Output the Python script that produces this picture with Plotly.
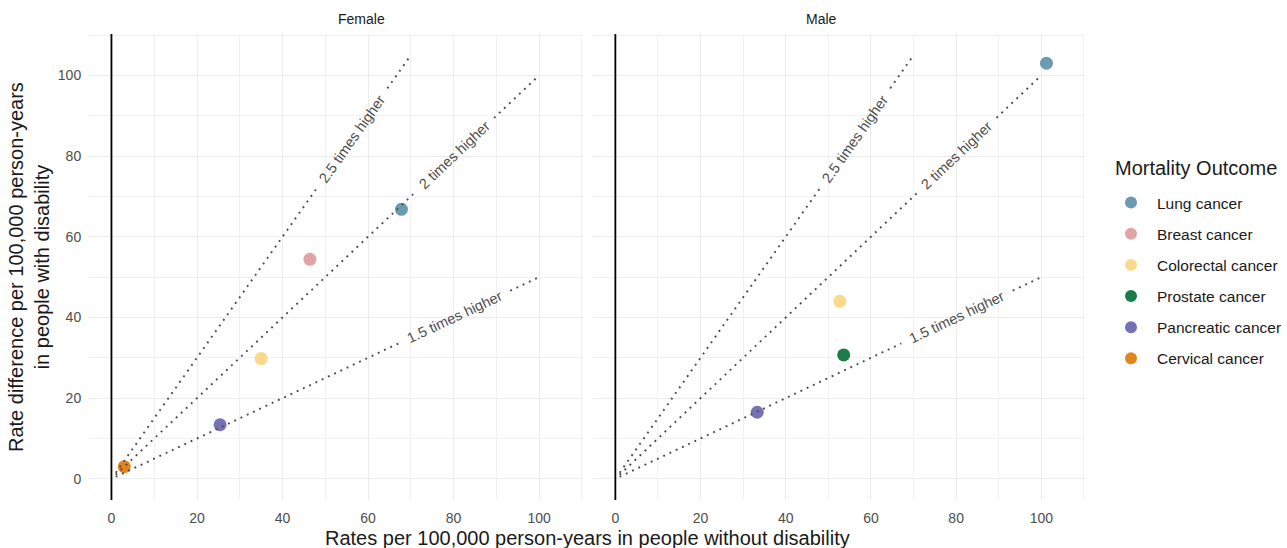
import math
import plotly.graph_objects as go

# ---------------- data ----------------
categories = ["Lung cancer", "Breast cancer", "Colorectal cancer",
              "Prostate cancer", "Pancreatic cancer", "Cervical cancer"]
colors = ["#6A9BB2", "#E3A3A3", "#FAD98A", "#1C7C48", "#7472B4", "#E2851F"]

female_cat = ["Lung cancer", "Breast cancer", "Colorectal cancer",
              "Pancreatic cancer", "Cervical cancer"]
female_x = [67.8, 46.4, 35.0, 25.4, 3.0]
female_y = [66.8, 54.4, 29.8, 13.4, 3.0]

male_cat = ["Lung cancer", "Colorectal cancer", "Prostate cancer", "Pancreatic cancer"]
male_x = [101.2, 52.7, 53.6, 33.3]
male_y = [103.0, 44.0, 30.7, 16.5]

ratios = [2.5, 2.0, 1.5]
ratio_labels = ["2.5 times higher", "2 times higher", "1.5 times higher"]
ratio_x_start = [1, 1, 1]
ratio_x_end = [70, 100, 100]
label_pos = 0.8

x_ticks = [0, 20, 40, 60, 80, 100]
y_ticks = [0, 20, 40, 60, 80, 100]
minor_ticks = [10, 30, 50, 70, 90, 110]
axis_range = [-5.25, 110.25]

# ---------------- layout geometry ----------------
W, H = 1287, 548
ml, mr, mt, mb = 89, 202, 34, 48
pw, ph = W - ml - mr, H - mt - mb
dom1 = [0, 494 / pw]
dom2 = [504 / pw, 1]
span = axis_range[1] - axis_range[0]
sx1 = (dom1[1] - dom1[0]) * pw / span
sx2 = (dom2[1] - dom2[0]) * pw / span
sy = ph / span

FONT = "Liberation Sans, Arial, sans-serif"
LINE_COL = "#4A4A4A"
TXT_COL = "#4D4D4D"
fsize = 14.5

fig = go.Figure()

# points
cmap = dict(zip(categories, colors))
for rank, cat in enumerate(categories):
    if cat in female_cat:
        i = female_cat.index(cat)
        fig.add_trace(go.Scatter(
            x=[female_x[i]], y=[female_y[i]], mode="markers", name=cat,
            marker=dict(color=cmap[cat], size=13), legendgroup=cat,
            legendrank=rank + 1, showlegend=True, xaxis="x", yaxis="y"))
    if cat in male_cat:
        i = male_cat.index(cat)
        fig.add_trace(go.Scatter(
            x=[male_x[i]], y=[male_y[i]], mode="markers", name=cat,
            marker=dict(color=cmap[cat], size=13), legendgroup=cat,
            legendrank=rank + 1, showlegend=cat not in female_cat,
            xaxis="x2", yaxis="y"))

# ratio reference lines (dotted, broken where the label sits)
annotations = []
for xa, sx in (("x", sx1), ("x2", sx2)):
    for r, lab, x0, x1 in zip(ratios, ratio_labels, ratio_x_start, ratio_x_end):
        k = r - 1
        xc = x0 + label_pos * (x1 - x0)
        px_per_x = math.hypot(sx, k * sy)
        half_gap = (len(lab) * 7.2) / 2 + 4
        dxg = half_gap / px_per_x
        for a, b in ((x0, xc - dxg), (xc + dxg, x1)):
            fig.add_trace(go.Scatter(
                x=[a, b], y=[k * a, k * b], mode="lines",
                line=dict(color=LINE_COL, width=1.9, dash="1.9px,5px"),
                showlegend=False, hoverinfo="skip", xaxis=xa, yaxis="y"))
        angle = -math.degrees(math.atan2(k * sy, sx))
        annotations.append(dict(
            x=xc, y=k * xc, xref=xa, yref="y", text=lab, showarrow=False,
            textangle=angle, xanchor="center", yanchor="middle",
            font=dict(family=FONT, size=fsize, color=TXT_COL)))

# facet titles
annotations.append(dict(x=(dom1[0] + dom1[1]) / 2, y=1, xref="paper", yref="paper",
                        yanchor="bottom", yshift=5, text="Female", showarrow=False,
                        font=dict(family=FONT, size=14, color="#1A1A1A")))
annotations.append(dict(x=(dom2[0] + dom2[1]) / 2, y=1, xref="paper", yref="paper",
                        yanchor="bottom", yshift=5, text="Male", showarrow=False,
                        font=dict(family=FONT, size=14, color="#1A1A1A")))
# shared x title
annotations.append(dict(x=0.5, y=0, xref="paper", yref="paper", yanchor="top",
                        yshift=-25, showarrow=False,
                        text="Rates per 100,000 person-years in people without disability",
                        font=dict(family=FONT, size=20, color="#1A1A1A")))
# y title (two lines, rotated)
annotations.append(dict(x=0, y=0.5, xref="paper", yref="paper", xanchor="center",
                        yanchor="middle", xshift=-60, textangle=-90, showarrow=False,
                        text="Rate difference per 100,000 person-years<br>in people with disability",
                        font=dict(family=FONT, size=20, color="#1A1A1A")))
# legend title
annotations.append(dict(x=(1113 - ml) / pw, y=(H - mb - 168) / ph, xref="paper", yref="paper",
                        xanchor="left", yanchor="middle", showarrow=False,
                        text="Mortality Outcome",
                        font=dict(family=FONT, size=20, color="#1A1A1A")))

shapes = []
for xa in ("x", "x2"):
    shapes.append(dict(type="line", xref=xa, yref="y domain", x0=0, x1=0, y0=0, y1=1,
                       line=dict(color="black", width=1.8), layer="above"))

axis_common = dict(
    range=axis_range, tickvals=x_ticks, showgrid=True, gridcolor="#EBEBEB",
    gridwidth=1.1, zeroline=False, showline=False,
    ticks="outside", ticklen=5, tickcolor="rgba(0,0,0,0)",
    tickfont=dict(family=FONT, size=14, color=TXT_COL),
    minor=dict(tickvals=minor_ticks, showgrid=True,
               gridcolor="#F1F1F1", gridwidth=0.6),
)

fig.update_layout(
    width=W, height=H,
    margin=dict(l=ml, r=mr, t=mt, b=mb, autoexpand=False),
    plot_bgcolor="white", paper_bgcolor="white",
    font=dict(family=FONT),
    xaxis=dict(domain=dom1, anchor="y", **axis_common),
    xaxis2=dict(domain=dom2, anchor="y", **axis_common),
    yaxis=dict(
        range=axis_range, tickvals=y_ticks, showgrid=True, gridcolor="#EBEBEB",
        gridwidth=1.1, zeroline=False, showline=False,
        ticks="outside", ticklen=4, tickcolor="rgba(0,0,0,0)",
        tickfont=dict(family=FONT, size=14, color=TXT_COL),
        minor=dict(tickvals=minor_ticks, showgrid=True,
                   gridcolor="#F1F1F1", gridwidth=0.6),
    ),
    legend=dict(
        font=dict(family=FONT, size=15.5, color="#1A1A1A"),
        x=(1105 - ml) / pw, xanchor="left", y=(H - mb - 186) / ph, yanchor="top",
        tracegroupgap=8, itemwidth=42, itemsizing="constant",
        bgcolor="rgba(0,0,0,0)",
    ),
    annotations=annotations,
    shapes=shapes,
    showlegend=True,
)

fig.write_html("out.html", post_script="document.body.style.margin='0';",
               config={"displayModeBar": False})
